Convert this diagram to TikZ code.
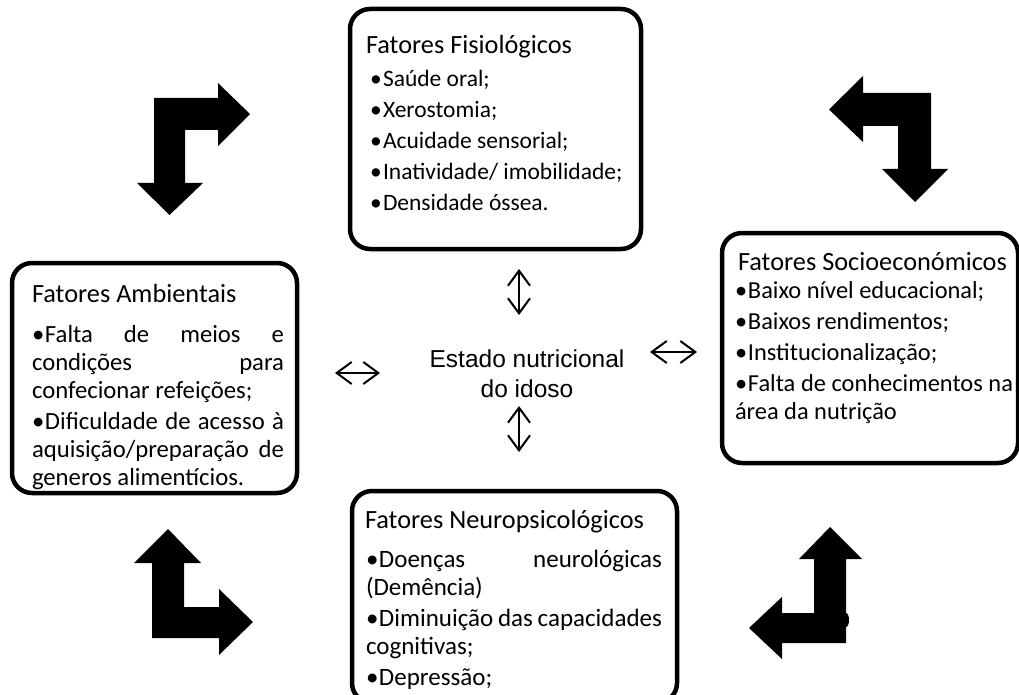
\documentclass[tikz,border=0pt]{standalone}
\usepackage{fontspec}
\setmainfont{Carlito}
\newfontfamily\arialf{Liberation Sans}
\usetikzlibrary{arrows.meta}
\newcommand\bul{\makebox[13pt][l]{•}}
\newcommand\txtbody[4]{\vtop{\hsize=#1\parindent=0pt\fontsize{#2}{#3}\selectfont\baselineskip=#3\parskip=3pt\tolerance=10000\hyphenpenalty=10000\emergencystretch=20pt\hbadness=10000 #4}}
\newcommand\ttl[1]{\fontsize{26.3}{30}\selectfont #1}
\tikzset{
  box/.style={draw=black, line width=4.5pt, rounded corners=20pt, fill=white, outer sep=0pt, inner sep=0pt, anchor=north west},
  txt/.style={anchor=base west, inner sep=0pt, outer sep=0pt},
  dbl/.style={line width=2pt, {Straight Barb[length=15pt,width=22pt,line width=2pt]}-{Straight Barb[length=15pt,width=22pt,line width=2pt]}},
  bigarrow/.style={fill=black, draw=none}
}
\begin{document}
\begin{tikzpicture}[x=1pt,y=-1pt]
\clip (0,0) rectangle (1019,695);
\fill[white] (0,0) rectangle (1019,695);

% boxes
\node[box, minimum width=291pt, minimum height=240pt] (fis) at (350,9) {};
\node[box, minimum width=285pt, minimum height=230pt] (amb) at (12,263) {};
\node[box, minimum width=296pt, minimum height=230pt] (soc) at (722,233) {};
\node[box, minimum width=325pt, minimum height=212pt] (neu) at (352,491) {};

% titles
\node[txt] (fisT) at (366,54) {\ttl{Fatores Fisiológicos}};
\node[txt] (ambT) at (32,302) {\ttl{Fatores Ambientais}};
\node[txt] (socT) at (738,270) {\ttl{Fatores Socioeconómicos}};
\node[txt] (neuT) at (365,528) {\ttl{Fatores Neuropsicológicos}};

% bodies
\node[txt] (fisB) at (370,87) {\txtbody{268pt}{23.5}{28pt}{\bul Saúde oral;\par\bul Xerostomia;\par\bul Acuidade sensorial;\par\bul Inatividade/ imobilidade;\par\bul Densidade óssea.}};
\node[txt] (ambB) at (32,342) {\txtbody{252pt}{24.7}{28pt}{\bul Falta de meios e\linebreak condições para\linebreak confecionar refeições;\par\bul Dificuldade de acesso à\linebreak aquisição/preparação de\linebreak generos alimentícios.}};
\node[txt] (socB) at (735,298) {\txtbody{278pt}{24.4}{28pt}{\bul Baixo nível educacional;\par\bul Baixos rendimentos;\par\bul Institucionalização;\par\bul Falta de conhecimentos na\linebreak área da nutrição}};
\node[txt] (neuB) at (366,567) {\txtbody{296pt}{25}{28pt}{\bul Doenças neurológicas\linebreak (Demência)\par\bul Diminuição das capacidades\linebreak cognitivas;\par\bul Depressão;}};

% centre
\node[anchor=base, inner sep=0pt] (est) at (527,367) {\arialf\fontsize{24.5}{30}\selectfont\vtop{\baselineskip=30pt\halign{\hfil#\hfil\cr Estado nutricional\cr do idoso\cr}}};

% double arrows
\coordinate (u1) at (519,269); \coordinate (u2) at (519,315);
\coordinate (d1) at (519,406); \coordinate (d2) at (519,452);
\coordinate (l1) at (335,373); \coordinate (l2) at (380,373);
\coordinate (r1) at (650,352); \coordinate (r2) at (697,352);
\draw[dbl] (u1) -- (u2);
\draw[dbl] (d1) -- (d2);
\draw[dbl] (l1) -- (l2);
\draw[dbl] (r1) -- (r2);

% big bent arrows
\fill[bigarrow] (154,98) -- (218,98) -- (218,83) -- (250,114) -- (218,146) -- (218,130) -- (185,130) -- (185,183) -- (203,183) -- (169.5,215) -- (137,183) -- (154,183) -- cycle;
\fill[bigarrow] (931,93) -- (863,93) -- (863,76) -- (829,109.5) -- (863,142) -- (863,126) -- (898,126) -- (898,169) -- (882,169) -- (915,202) -- (948,169) -- (931,169) -- cycle;
\fill[bigarrow] (152,638) -- (152,563) -- (134,563) -- (168,529) -- (201,563) -- (184,563) -- (184,607) -- (219,607) -- (219,589) -- (253,622) -- (219,655) -- (219,638) -- cycle;
\fill[bigarrow] (846,643) -- (846,559) -- (862,559) -- (830,527) -- (799,559) -- (814,559) -- (814,613) -- (782,613) -- (782,597) -- (749,628) -- (782,659) -- (782,643) -- cycle;
\fill[bigarrow] (846,620) ellipse [x radius=3pt, y radius=7pt];
\end{tikzpicture}
\end{document}
